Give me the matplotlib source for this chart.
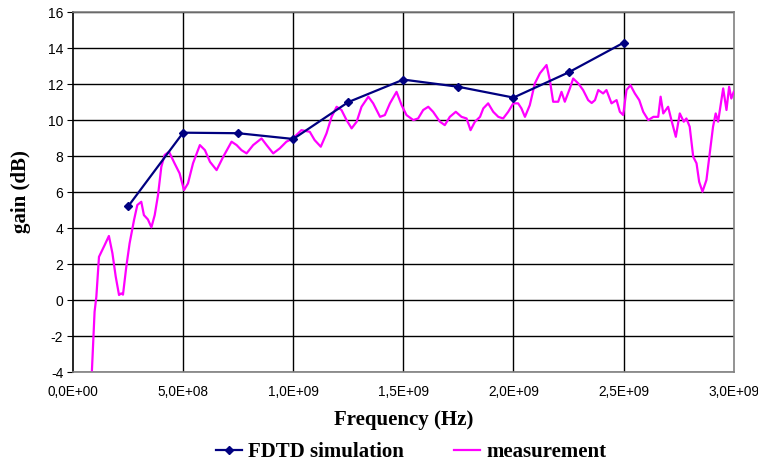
import matplotlib.pyplot as plt
import numpy as np

mynavy = '#000080'
mymag = '#ff00ff'

# FDTD simulation points
fdtd_f = [2.5e8, 5.0e8, 7.5e8, 1.0e9, 1.25e9, 1.5e9, 1.75e9, 2.0e9, 2.25e9, 2.5e9]
fdtd_gain = [5.2, 9.3, 9.27, 8.95, 11.0, 12.25, 11.85, 11.25, 12.65, 14.3]

meas_f = [0.086, 0.098, 0.106, 0.118, 0.144, 0.163, 0.179, 0.194, 0.209, 0.219,
          0.227, 0.242, 0.257, 0.277, 0.292, 0.310, 0.322, 0.340, 0.356, 0.371,
          0.386, 0.401, 0.416, 0.436, 0.461, 0.484, 0.504, 0.522, 0.545, 0.576,
          0.599, 0.622, 0.652, 0.682, 0.720, 0.743, 0.765, 0.788, 0.818, 0.856,
          0.879, 0.909, 0.939, 0.969, 0.999, 1.037, 1.075, 1.097, 1.125, 1.151,
          1.174, 1.197, 1.219, 1.242, 1.265, 1.288, 1.310, 1.341, 1.363, 1.394,
          1.416, 1.439, 1.469, 1.492, 1.514, 1.545, 1.567, 1.590, 1.613, 1.635,
          1.666, 1.688, 1.711, 1.738, 1.764, 1.787, 1.805, 1.825, 1.848, 1.863,
          1.885, 1.908, 1.931, 1.953, 1.976, 1.999, 2.021, 2.036, 2.052, 2.074,
          2.097, 2.120, 2.150, 2.165, 2.180, 2.203, 2.218, 2.233, 2.256, 2.271,
          2.294, 2.316, 2.339, 2.355, 2.370, 2.385, 2.407, 2.422, 2.445, 2.468,
          2.483, 2.498, 2.513, 2.531, 2.551, 2.571, 2.589, 2.612, 2.635, 2.657,
          2.668, 2.680, 2.702, 2.717, 2.737, 2.755, 2.773, 2.785, 2.800, 2.816,
          2.831, 2.843, 2.858, 2.876, 2.891, 2.906, 2.918, 2.929, 2.952, 2.967,
          2.979, 2.989, 3.000]
meas_gain = [-3.9, -0.65, 0.18, 2.4, 3.06, 3.56, 2.6, 1.3, 0.28, 0.37,
             0.3, 1.85, 3.15, 4.44, 5.28, 5.46, 4.72, 4.48, 4.04, 4.72,
             5.83, 7.4, 8.06, 8.24, 7.6, 7.04, 6.11, 6.48, 7.6, 8.61,
             8.33, 7.68, 7.22, 7.96, 8.8, 8.61, 8.33, 8.15, 8.61, 8.98,
             8.61, 8.15, 8.43, 8.8, 8.98, 9.44, 9.35, 8.89, 8.52, 9.26,
             10.18, 10.74, 10.56, 10.0, 9.54, 9.91, 10.74, 11.3, 10.93, 10.18,
             10.28, 10.93, 11.57, 10.83, 10.28, 10.0, 10.09, 10.56, 10.74, 10.46,
             9.91, 9.72, 10.18, 10.46, 10.18, 10.09, 9.44, 9.91, 10.18, 10.65,
             10.93, 10.46, 10.18, 10.09, 10.46, 10.93, 10.93, 10.65, 10.18, 10.83,
             12.04, 12.6, 13.06, 12.22, 11.02, 11.02, 11.57, 11.02, 11.76, 12.31,
             12.04, 11.67, 11.11, 10.95, 11.11, 11.67, 11.48, 11.67, 10.93, 11.11,
             10.46, 10.28, 11.67, 11.94, 11.48, 11.11, 10.46, 10.0, 10.18, 10.18,
             11.3, 10.37, 10.74, 10.0, 9.07, 10.37, 9.91, 10.09, 9.63, 7.96,
             7.6, 6.57, 6.02, 6.67, 8.15, 9.63, 10.37, 9.91, 11.76, 10.56,
             11.85, 11.2, 11.57]

x_ticks = [0, 5e8, 1e9, 1.5e9, 2e9, 2.5e9, 3e9]
x_ticklabels = ['0,0E+00', '5,0E+08', '1,0E+09', '1,5E+09', '2,0E+09', '2,5E+09', '3,0E+09']

plt.rcParams['font.family'] = 'Liberation Sans'
plt.rcParams['axes.unicode_minus'] = False

fig = plt.figure(figsize=(7.58, 4.66), dpi=100)
ax = fig.add_axes([0.0963, 0.2017, 0.8717, 0.7723])

# grid first so the data lines sit on top
for yv in range(-4, 18, 2):
    ax.axhline(yv, color='black', linewidth=1.0, zorder=1)
for xv in x_ticks[1:-1]:
    ax.axvline(xv, color='black', linewidth=1.0, zorder=1)

ax.plot(np.array(meas_f) * 1e9, meas_gain, color=mymag, linewidth=1.6,
        label='measurement', zorder=3)
ax.plot(fdtd_f, fdtd_gain, color=mynavy, linewidth=1.6, marker='D', markersize=4.5,
        label='FDTD simulation', zorder=4)

ax.set_xlim(0, 3e9)
ax.set_ylim(-4, 16)
ax.set_yticks(range(-4, 18, 2))
ax.set_xticks(x_ticks)
ax.set_xticklabels(x_ticklabels)
ax.tick_params(axis='y', labelsize=10, length=4, direction='out', pad=3)
ax.tick_params(axis='x', labelsize=9.8, length=0, pad=9)

for s in ax.spines.values():
    s.set_color('#808080')
    s.set_linewidth(1.2)
ax.spines['left'].set_color('black')

ax.set_xlabel('Frequency (Hz)', fontsize=15, fontweight='bold',
              family='Liberation Serif', labelpad=8)
ax.set_ylabel('gain (dB)', fontsize=15, fontweight='bold',
              family='Liberation Serif', labelpad=12)

h, l = ax.get_legend_handles_labels()
lgd = fig.legend(h[::-1], l[::-1], loc='center', bbox_to_anchor=(0.542, 0.03), ncol=2,
                 frameon=False, prop={'family': 'Liberation Serif', 'weight': 'bold', 'size': 15},
                 handlelength=1.25, handletextpad=0.3, columnspacing=2.4)

fig.savefig('out.png', dpi=100)
